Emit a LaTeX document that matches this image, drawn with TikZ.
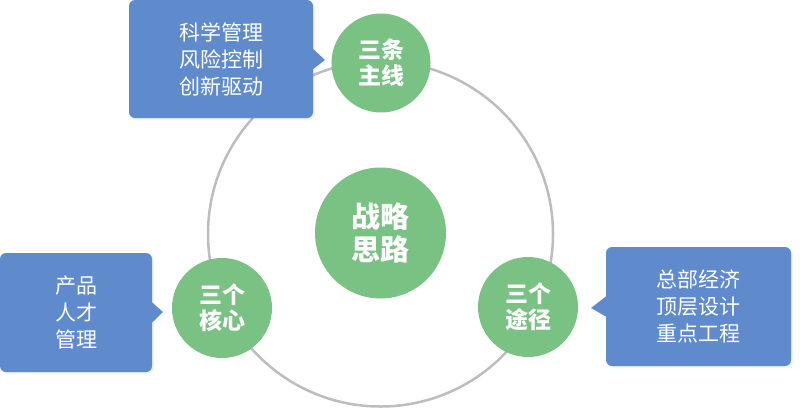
\documentclass[tikz,border=0pt]{standalone}
\usepackage{fontspec}
\setmainfont{Noto Sans CJK SC}
\usetikzlibrary{shadows}
\definecolor{boxblue}{HTML}{5F8BCD}
\definecolor{cgreen}{HTML}{7AC184}
\definecolor{ringgray}{HTML}{BDBDBD}
\tikzset{
  ringstyle/.style={circle, draw=ringgray, line width=2.5pt, inner sep=0pt, minimum size=345pt},
  gcirc/.style={circle, fill=cgreen, inner sep=0pt, text=white, align=center, font=\bfseries\fontsize{23}{26}\selectfont},
  bbox/.style={rounded corners=6pt, fill=boxblue, inner sep=0pt, text=white, align=center,
     font=\fontsize{21}{27}\selectfont, drop shadow={opacity=0.12, shadow xshift=1.5pt, shadow yshift=-1.5pt}},
  pointer/.style={fill=boxblue}
}
\begin{document}
\begin{tikzpicture}[x=1pt,y=-1pt]
\useasboundingbox (0,0) rectangle (800,408);
\node[ringstyle] (ring) at (380.5,234) {};
\node[gcirc, minimum size=131pt, font=\bfseries\fontsize{29}{33}\selectfont] (center) at (380.5,233) {战略\\思路};
\node[gcirc, minimum size=99pt] (top) at (381,63) {三条\\主线};
\node[gcirc, minimum size=100pt] (left) at (222,308) {三个\\核心};
\node[gcirc, minimum size=100pt] (right) at (528,307) {三个\\途径};
% boxes
\node[bbox, minimum width=184pt, minimum height=118pt] (tl) at (221,59) {科学管理\\风险控制\\创新驱动};
\node[bbox, minimum width=152pt, minimum height=119pt] (bl) at (76,312.5) {产品\\人才\\管理};
\node[bbox, minimum width=185pt, minimum height=119pt] (br) at (698.5,306.5) {总部经济\\顶层设计\\重点工程};
% pointers
\coordinate (tltip) at (325,60);
\coordinate (bltip) at (163,312);
\coordinate (brtip) at (591,308);
\fill[pointer] ([yshift=-10pt]tl.east) -- (tltip) -- ([yshift=10pt]tl.east) -- cycle;
\fill[pointer] ([yshift=-10pt]bl.east) -- (bltip) -- ([yshift=10pt]bl.east) -- cycle;
\fill[pointer] ([yshift=-10pt]br.west) -- (brtip) -- ([yshift=10pt]br.west) -- cycle;
\end{tikzpicture}
\end{document}
